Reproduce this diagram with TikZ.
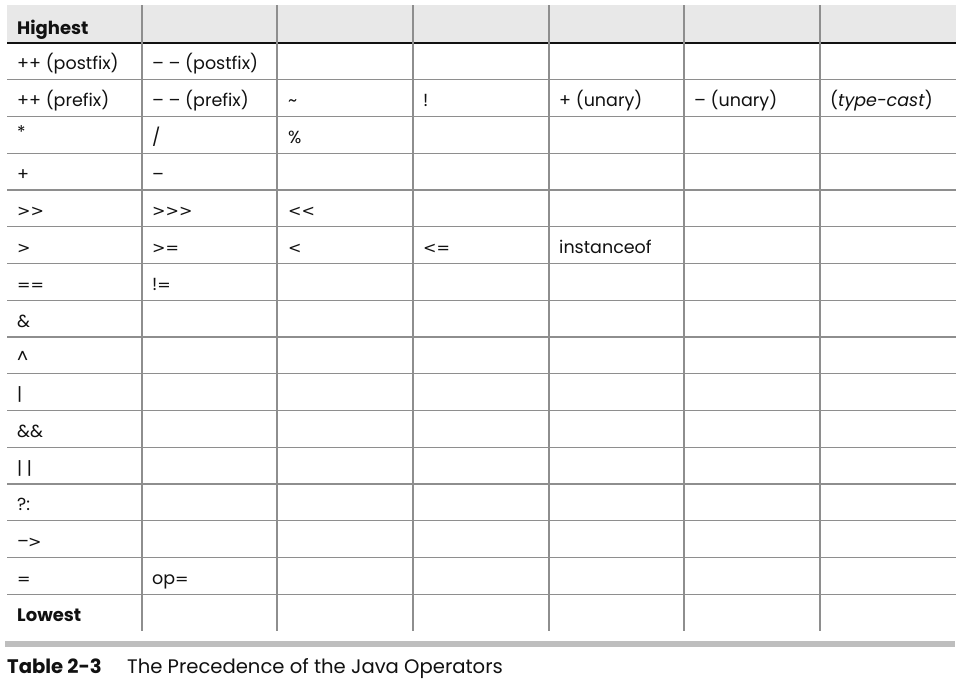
\documentclass[tikz,border=0pt]{standalone}
\usepackage{graphicx}
\usepackage{fontspec}
\setmainfont{Poppins}
\newfontfamily\opfont{DejaVu Sans}
\definecolor{headbg}{HTML}{E8E8E8}
\definecolor{gridcol}{HTML}{8E8E8E}
\definecolor{barcol}{HTML}{BEBEBE}
\definecolor{txt}{HTML}{111111}
\newcommand\op[1]{{\opfont\fontsize{16}{19}\selectfont #1}}
\begin{document}
\begin{tikzpicture}[x=1pt,y=-1pt,
  gridline/.style={draw=gridcol,line width=1.3pt},
  headline/.style={draw=txt,line width=1.6pt},
  cell/.style={anchor=base west,inner sep=0pt,text=txt,font=\fontsize{17.5}{20}\selectfont},
  boldcell/.style={cell,font=\fontsize{18}{21}\selectfont\bfseries},
  capb/.style={anchor=base west,inner sep=0pt,text=txt,font=\fontsize{19.6}{23}\selectfont\bfseries},
  capt/.style={anchor=base west,inner sep=0pt,text=txt,font=\fontsize{19.6}{23}\selectfont}]
\useasboundingbox (0,0) rectangle (973,689);
\fill[white] (0,0) rectangle (973,689);
\fill[headbg] (7,5) rectangle (956,43);
\foreach \k in {1,...,15} \draw[gridline] (7,{43+\k*36.75}) -- (956,{43+\k*36.75});
\draw[headline] (7,43) -- (956,43);
\foreach \x in {142,277,413,549,684,820} \draw[gridline] (\x,5) -- (\x,631);
\fill[barcol] (5,641) rectangle (955,647);
% header
\node[boldcell] (hi) at (17,34) {Highest};
% row 1
\node[cell] (r1a) at (17,69.8) {++ (postfix)};
\node[cell] (r1b) at (152,69.8) {– – (postfix)};
% row 2
\node[cell] (r2a) at (17,106.55) {++ (prefix)};
\node[cell] (r2b) at (152,106.55) {– – (prefix)};
\node[cell] (r2c) at (288,106.55) {\textasciitilde};
\node[cell] (r2d) at (423,106.55) {!};
\node[cell] (r2e) at (559,106.55) {+ (unary)};
\node[cell] (r2f) at (694,106.55) {– (unary)};
\node[cell] (r2g) at (830,106.55) {(\textit{type-cast})};
% row 3
\node[cell] (r3a) at (17,143.3) {\raisebox{5pt}{*}};
\node[cell] (r3b) at (152,143.3) {/};
\node[cell] (r3c) at (288,143.3) {\%};
% row 4
\node[cell] (r4a) at (17,180.05) {+};
\node[cell] (r4b) at (152,180.05) {–};
% row 5
\node[cell] (r5a) at (17,216.8) {\op{>{}>}};
\node[cell] (r5b) at (152,216.8) {\op{>{}>{}>}};
\node[cell] (r5c) at (288,216.8) {\op{<{}<}};
% row 6
\node[cell] (r6a) at (17,253.55) {\op{>}};
\node[cell] (r6b) at (152,253.55) {\op{>=}};
\node[cell] (r6c) at (288,253.55) {\op{<}};
\node[cell] (r6d) at (423,253.55) {\op{<=}};
\node[cell] (r6e) at (559,253.55) {instanceof};
% row 7
\node[cell] (r7a) at (17,290.3) {\op{==}};
\node[cell] (r7b) at (152,290.3) {!\op{=}};
% rows 8-14
\node[cell] (r8a) at (17,327.05) {\&};
\node[cell] (r9a) at (17,363.8) {\textasciicircum};
\node[cell] (r10a) at (17,400.55) {|};
\node[cell] (r11a) at (17,437.3) {\&\&};
\node[cell] (r12a) at (17,474.05) {| |};
\node[cell] (r13a) at (17,510.8) {?:};
\node[cell] (r14a) at (17,547.55) {–\kern-1pt\op{>}};
% row 15
\node[cell] (r15a) at (17,584.3) {\op{=}};
\node[cell] (r15b) at (152,584.3) {op\op{=}};
% row 16
\node[boldcell] (lo) at (17,621.05) {Lowest};
% caption
\node[capb] (capnum) at (7,673) {Table 2-3};
\node[capt] (captext) at (127,673) {The Precedence of the Java Operators};
\end{tikzpicture}
\end{document}
